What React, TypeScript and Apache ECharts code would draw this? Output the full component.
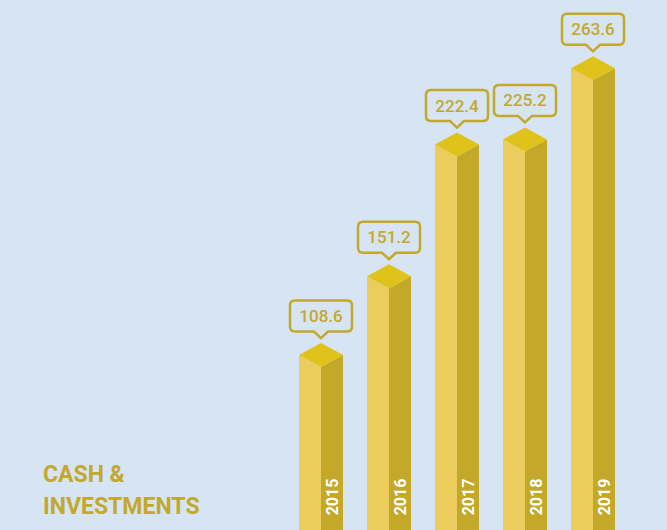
import React, { useEffect, useRef } from "react";
import * as echarts from "echarts";

const years = ["2015", "2016", "2017", "2018", "2019"];
const values = [108.6, 151.2, 222.4, 225.2, 263.6];
const titleLines = ["CASH &", "INVESTMENTS"];

const BG = "#d7e4f3";
const LEFT = "#ebcc5c";
const RIGHT = "#c3a927";
const TOP = "#dfc21a";
const OLIVE = "#c2a82b";

export default function App() {
  const ref = useRef<HTMLDivElement>(null);
  useEffect(() => {
    if (!ref.current) return;
    const chart = echarts.init(ref.current, null, { renderer: "svg" });
    const option: any = {
      animation: false,
      backgroundColor: BG,
      grid: { left: 287, right: 40, top: 0, bottom: 0 },
      xAxis: {
        type: "category",
        data: years,
        show: false,
      },
      yAxis: { type: "value", min: 7.57, max: 294.05, show: false },
      graphic: [
        {
          type: "text",
          left: 43,
          top: 463,
          style: {
            text: titleLines[0],
            fill: OLIVE,
            font: "bold 23px Roboto",
          },
        },
        {
          type: "text",
          left: 43,
          top: 495,
          style: {
            text: titleLines[1],
            fill: OLIVE,
            font: "bold 23px Roboto",
          },
        },
      ],
      series: [
        {
          type: "custom",
          clip: false,
          data: values.map((v, i) => [i, v]),
          renderItem: (params: any, api: any) => {
            const i = api.value(0);
            const v = api.value(1);
            const [cx, ty] = api.coord([i, v]);
            const hw = 22;
            const dh = 12;
            const bottom = 540;
            const bl = cx - 31, br = cx + 31, bt = ty - 42.5, bb = ty - 11.5, r = 5;
            const pw = 7, tip = ty - 5;
            const pathData =
              `M${bl + r} ${bt} L${br - r} ${bt} Q${br} ${bt} ${br} ${bt + r} ` +
              `L${br} ${bb - r} Q${br} ${bb} ${br - r} ${bb} L${cx + pw} ${bb} L${cx} ${tip} L${cx - pw} ${bb} ` +
              `L${bl + r} ${bb} Q${bl} ${bb} ${bl} ${bb - r} L${bl} ${bt + r} Q${bl} ${bt} ${bl + r} ${bt} Z`;
            return {
              type: "group",
              children: [
                {
                  type: "polygon",
                  shape: { points: [[cx - hw, ty + dh], [cx, ty + 2 * dh], [cx, bottom], [cx - hw, bottom]] },
                  style: { fill: LEFT },
                },
                {
                  type: "polygon",
                  shape: { points: [[cx, ty + 2 * dh], [cx + hw, ty + dh], [cx + hw, bottom], [cx, bottom]] },
                  style: { fill: RIGHT },
                },
                {
                  type: "polygon",
                  shape: { points: [[cx, ty], [cx + hw, ty + dh], [cx, ty + 2 * dh], [cx - hw, ty + dh]] },
                  style: { fill: TOP },
                },
                {
                  type: "path",
                  shape: { pathData },
                  style: { fill: "none", stroke: OLIVE, lineWidth: 2.5 },
                },
                {
                  type: "text",
                  x: cx,
                  y: (bt + bb) / 2,
                  style: {
                    text: String(values[i]),
                    fill: OLIVE,
                    font: "500 17px Roboto",
                    align: "center",
                    verticalAlign: "middle",
                  },
                },
                {
                  type: "text",
                  x: cx + 11.5,
                  y: 497,
                  rotation: Math.PI / 2,
                  style: {
                    text: years[i],
                    fill: "#ffffff",
                    font: "bold 16px Roboto",
                    align: "center",
                    verticalAlign: "middle",
                  },
                },
              ],
            };
          },
        },
      ],
    };
    chart.setOption(option);
    return () => chart.dispose();
  }, []);
  return (
    <div
      ref={ref}
      style={{ position: "fixed", left: 0, top: 0, width: 667, height: 530 }}
    />
  );
}
